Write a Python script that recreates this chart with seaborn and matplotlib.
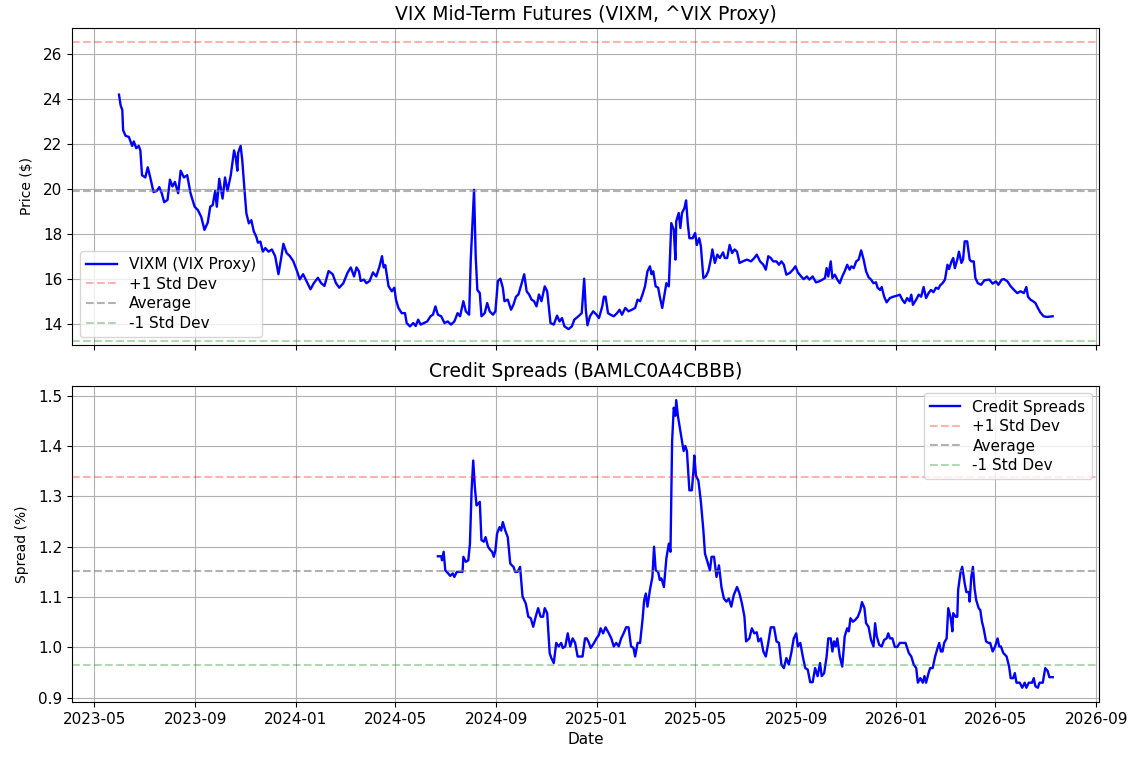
import pandas as pd
import matplotlib
matplotlib.use("Agg")
import matplotlib.pyplot as plt
import matplotlib.dates as mdates
import seaborn as sns

# VIXM closes
vixm_dates = [
    "2023-05-31", "2023-06-02", "2023-06-04", "2023-06-05", "2023-06-08", "2023-06-12", "2023-06-16", "2023-06-18",
    "2023-06-21", "2023-06-24", "2023-06-26", "2023-06-28", "2023-07-02", "2023-07-05", "2023-07-08", "2023-07-12",
    "2023-07-16", "2023-07-19", "2023-07-22", "2023-07-25", "2023-07-29", "2023-08-01", "2023-08-04", "2023-08-07",
    "2023-08-11", "2023-08-14", "2023-08-18", "2023-08-22", "2023-08-26", "2023-08-31", "2023-09-04", "2023-09-08",
    "2023-09-12", "2023-09-16", "2023-09-19", "2023-09-22", "2023-09-25", "2023-09-27", "2023-09-30", "2023-10-04",
    "2023-10-07", "2023-10-10", "2023-10-14", "2023-10-18", "2023-10-20", "2023-10-22", "2023-10-23", "2023-10-26",
    "2023-10-28", "2023-10-31", "2023-11-02", "2023-11-05", "2023-11-08", "2023-11-11", "2023-11-14", "2023-11-16",
    "2023-11-19", "2023-11-22", "2023-11-25", "2023-11-29", "2023-12-03", "2023-12-07", "2023-12-11", "2023-12-14",
    "2023-12-17", "2023-12-21", "2023-12-25", "2023-12-29", "2024-01-02", "2024-01-06", "2024-01-10", "2024-01-14",
    "2024-01-19", "2024-01-23", "2024-01-28", "2024-02-01", "2024-02-05", "2024-02-10", "2024-02-15", "2024-02-19",
    "2024-02-23", "2024-02-28", "2024-03-04", "2024-03-08", "2024-03-12", "2024-03-15", "2024-03-18", "2024-03-20",
    "2024-03-24", "2024-03-27", "2024-03-31", "2024-04-04", "2024-04-08", "2024-04-12", "2024-04-15", "2024-04-17",
    "2024-04-19", "2024-04-23", "2024-04-27", "2024-04-30", "2024-05-02", "2024-05-05", "2024-05-09", "2024-05-13",
    "2024-05-15", "2024-05-19", "2024-05-23", "2024-05-26", "2024-05-29", "2024-06-01", "2024-06-05", "2024-06-09",
    "2024-06-13", "2024-06-16", "2024-06-19", "2024-06-22", "2024-06-26", "2024-06-30", "2024-07-04", "2024-07-08",
    "2024-07-12", "2024-07-16", "2024-07-19", "2024-07-23", "2024-07-26", "2024-07-30", "2024-08-01", "2024-08-05",
    "2024-08-07", "2024-08-09", "2024-08-12", "2024-08-14", "2024-08-18", "2024-08-21", "2024-08-24", "2024-08-28",
    "2024-08-31", "2024-09-03", "2024-09-06", "2024-09-09", "2024-09-11", "2024-09-15", "2024-09-19", "2024-09-22",
    "2024-09-25", "2024-09-28", "2024-10-02", "2024-10-05", "2024-10-08", "2024-10-11", "2024-10-14", "2024-10-17",
    "2024-10-20", "2024-10-23", "2024-10-26", "2024-10-30", "2024-11-02", "2024-11-06", "2024-11-10", "2024-11-14",
    "2024-11-17", "2024-11-20", "2024-11-23", "2024-11-28", "2024-12-02", "2024-12-05", "2024-12-10", "2024-12-14",
    "2024-12-17", "2024-12-19", "2024-12-21", "2024-12-24", "2024-12-28", "2025-01-01", "2025-01-04", "2025-01-08",
    "2025-01-10", "2025-01-12", "2025-01-15", "2025-01-18", "2025-01-22", "2025-01-26", "2025-01-29", "2025-02-01",
    "2025-02-05", "2025-02-09", "2025-02-13", "2025-02-17", "2025-02-20", "2025-02-23", "2025-02-26", "2025-03-01",
    "2025-03-04", "2025-03-07", "2025-03-09", "2025-03-11", "2025-03-14", "2025-03-17", "2025-03-19", "2025-03-22",
    "2025-03-24", "2025-03-27", "2025-03-30", "2025-04-02", "2025-04-05", "2025-04-07", "2025-04-08", "2025-04-11",
    "2025-04-13", "2025-04-15", "2025-04-18", "2025-04-20", "2025-04-22", "2025-04-24", "2025-04-28", "2025-05-01",
    "2025-05-03", "2025-05-06", "2025-05-08", "2025-05-11", "2025-05-14", "2025-05-17", "2025-05-20", "2025-05-22",
    "2025-05-25", "2025-05-28", "2025-05-31", "2025-06-04", "2025-06-06", "2025-06-09", "2025-06-12", "2025-06-15",
    "2025-06-18", "2025-06-21", "2025-06-24", "2025-06-28", "2025-07-03", "2025-07-08", "2025-07-12", "2025-07-15",
    "2025-07-19", "2025-07-23", "2025-07-26", "2025-07-29", "2025-08-01", "2025-08-04", "2025-08-08", "2025-08-11",
    "2025-08-14", "2025-08-17", "2025-08-20", "2025-08-24", "2025-08-28", "2025-08-31", "2025-09-03", "2025-09-07",
    "2025-09-10", "2025-09-14", "2025-09-17", "2025-09-21", "2025-09-25", "2025-09-29", "2025-10-03", "2025-10-06",
    "2025-10-08", "2025-10-10", "2025-10-13", "2025-10-15", "2025-10-18", "2025-10-21", "2025-10-24", "2025-10-27",
    "2025-10-30", "2025-11-02", "2025-11-05", "2025-11-07", "2025-11-10", "2025-11-13", "2025-11-16", "2025-11-19",
    "2025-11-22", "2025-11-25", "2025-11-28", "2025-12-01", "2025-12-04", "2025-12-07", "2025-12-09", "2025-12-12",
    "2025-12-14", "2025-12-17", "2025-12-20", "2025-12-24", "2025-12-28", "2026-01-01", "2026-01-05", "2026-01-08",
    "2026-01-11", "2026-01-14", "2026-01-17", "2026-01-19", "2026-01-21", "2026-01-25", "2026-01-28", "2026-01-31",
    "2026-02-03", "2026-02-06", "2026-02-09", "2026-02-12", "2026-02-15", "2026-02-18", "2026-02-21", "2026-02-23",
    "2026-02-26", "2026-03-01", "2026-03-04", "2026-03-06", "2026-03-09", "2026-03-11", "2026-03-13", "2026-03-16",
    "2026-03-18", "2026-03-21", "2026-03-23", "2026-03-25", "2026-03-28", "2026-03-31", "2026-04-02", "2026-04-05",
    "2026-04-07", "2026-04-10", "2026-04-14", "2026-04-18", "2026-04-24", "2026-04-28", "2026-05-02", "2026-05-05",
    "2026-05-09", "2026-05-12", "2026-05-16", "2026-05-20", "2026-05-24", "2026-05-28", "2026-06-01", "2026-06-05",
    "2026-06-08", "2026-06-10", "2026-06-13", "2026-06-16", "2026-06-19", "2026-06-22", "2026-06-25", "2026-06-29",
    "2026-07-03", "2026-07-10",
]
vixm_values = [
    24.18, 23.7, 23.5, 22.6, 22.35, 22.3, 21.9, 22.1,
    21.8, 21.9, 21.7, 20.6, 20.5, 20.95, 20.5, 19.85,
    19.9, 20.07, 19.8, 19.4, 19.5, 20.4, 20.1, 20.3,
    19.8, 20.8, 20.5, 20.6, 19.8, 19.2, 19.05, 18.75,
    18.17, 18.5, 19.2, 19.27, 19.9, 19.2, 20.44, 19.56,
    20.5, 19.9, 20.6, 21.7, 21.4, 20.8, 21.6, 21.9,
    21.25, 19.8, 18.9, 18.46, 18.6, 18.1, 17.87, 17.6,
    17.65, 17.2, 17.36, 17.2, 17.3, 17.0, 16.2, 16.85,
    17.55, 17.14, 17.0, 16.78, 16.4, 15.97, 16.2, 15.9,
    15.53, 15.8, 16.04, 15.8, 15.68, 16.34, 16.2, 15.8,
    15.6, 15.8, 16.26, 16.5, 16.1, 16.5, 16.33, 15.9,
    15.96, 15.8, 15.9, 16.28, 16.1, 16.55, 17.0, 16.5,
    16.6, 15.66, 15.44, 15.6, 15.07, 14.7, 14.47, 14.47,
    14.03, 13.88, 14.03, 13.9, 14.18, 13.96, 14.03, 14.1,
    14.33, 14.4, 14.77, 14.4, 14.33, 14.03, 14.1, 13.96,
    14.1, 14.47, 14.33, 15.0, 14.55, 14.4, 16.85, 19.95,
    17.0, 15.5, 15.36, 14.33, 14.47, 14.92, 14.55, 14.4,
    14.55, 15.9, 16.0, 15.6, 15.0, 15.07, 14.62, 14.85,
    15.2, 15.3, 15.8, 16.2, 15.44, 15.3, 15.07, 15.0,
    14.77, 15.3, 15.0, 15.66, 15.44, 14.03, 13.96, 14.36,
    14.1, 14.25, 13.88, 13.76, 13.88, 14.18, 14.33, 14.47,
    16.0, 14.62, 13.93, 14.33, 14.55, 14.4, 14.25, 14.77,
    15.2, 15.2, 14.47, 14.4, 14.33, 14.47, 14.62, 14.4,
    14.7, 14.55, 14.62, 14.7, 15.07, 15.0, 15.3, 15.66,
    16.33, 16.55, 16.2, 16.33, 15.66, 15.6, 15.2, 14.7,
    15.14, 15.8, 15.66, 18.47, 18.18, 16.85, 18.55, 18.92,
    18.25, 18.92, 19.14, 19.48, 18.47, 17.8, 17.8, 18.03,
    17.5, 17.8, 17.44, 16.03, 16.1, 16.33, 16.85, 17.3,
    16.7, 17.07, 16.92, 17.17, 16.92, 16.92, 17.5, 17.14,
    17.3, 17.2, 16.7, 16.77, 16.85, 16.77, 16.92, 17.07,
    16.77, 16.62, 16.4, 17.0, 16.92, 16.77, 16.77, 16.62,
    16.77, 16.62, 16.18, 16.25, 16.4, 16.55, 16.28, 16.1,
    15.98, 16.1, 15.96, 16.1, 15.84, 15.88, 15.96, 16.03,
    16.47, 16.1, 16.77, 16.03, 16.18, 15.96, 15.8, 16.1,
    16.33, 16.62, 16.4, 16.55, 16.47, 16.77, 16.85, 17.26,
    16.85, 16.33, 16.07, 15.96, 15.8, 15.84, 15.6, 15.5,
    15.63, 15.2, 14.95, 15.14, 15.2, 15.24, 15.29, 15.07,
    14.92, 15.14, 15.0, 15.29, 14.84, 15.07, 15.29, 15.2,
    15.63, 15.14, 15.36, 15.5, 15.4, 15.6, 15.55, 15.7,
    15.8, 15.96, 16.62, 16.43, 16.77, 16.92, 16.47, 16.85,
    17.2, 16.7, 16.85, 17.66, 17.66, 16.85, 16.77, 16.77,
    16.03, 15.8, 15.73, 15.93, 15.96, 15.78, 15.88, 15.73,
    15.96, 15.98, 15.88, 15.66, 15.5, 15.36, 15.44, 15.36,
    15.63, 15.2, 15.07, 15.0, 14.92, 14.7, 14.5, 14.33,
    14.3, 14.33,
]

# BBB credit spread (%)
spread_dates = [
    "2024-06-22", "2024-06-26", "2024-06-27", "2024-06-29", "2024-07-01", "2024-07-04", "2024-07-07", "2024-07-10",
    "2024-07-12", "2024-07-15", "2024-07-19", "2024-07-22", "2024-07-23", "2024-07-26", "2024-07-29", "2024-07-31",
    "2024-08-02", "2024-08-04", "2024-08-06", "2024-08-08", "2024-08-10", "2024-08-12", "2024-08-14", "2024-08-17",
    "2024-08-19", "2024-08-22", "2024-08-25", "2024-08-27", "2024-08-29", "2024-08-31", "2024-09-02", "2024-09-05",
    "2024-09-07", "2024-09-09", "2024-09-12", "2024-09-15", "2024-09-18", "2024-09-20", "2024-09-22", "2024-09-24",
    "2024-09-27", "2024-09-30", "2024-10-03", "2024-10-07", "2024-10-10", "2024-10-13", "2024-10-16", "2024-10-19",
    "2024-10-22", "2024-10-25", "2024-10-28", "2024-10-30", "2024-11-02", "2024-11-05", "2024-11-07", "2024-11-10",
    "2024-11-13", "2024-11-16", "2024-11-19", "2024-11-21", "2024-11-24", "2024-11-27", "2024-11-30", "2024-12-03",
    "2024-12-06", "2024-12-09", "2024-12-12", "2024-12-15", "2024-12-18", "2024-12-20", "2024-12-22", "2024-12-25",
    "2024-12-29", "2025-01-01", "2025-01-04", "2025-01-06", "2025-01-09", "2025-01-12", "2025-01-16", "2025-01-19",
    "2025-01-22", "2025-01-25", "2025-01-28", "2025-01-31", "2025-02-03", "2025-02-06", "2025-02-09", "2025-02-12",
    "2025-02-15", "2025-02-17", "2025-02-20", "2025-02-23", "2025-02-26", "2025-02-28", "2025-03-02", "2025-03-04",
    "2025-03-07", "2025-03-10", "2025-03-12", "2025-03-14", "2025-03-17", "2025-03-19", "2025-03-21", "2025-03-24",
    "2025-03-27", "2025-03-30", "2025-04-01", "2025-04-03", "2025-04-05", "2025-04-07", "2025-04-08", "2025-04-10",
    "2025-04-12", "2025-04-15", "2025-04-17", "2025-04-19", "2025-04-21", "2025-04-24", "2025-04-27", "2025-04-29",
    "2025-04-30", "2025-05-02", "2025-05-05", "2025-05-08", "2025-05-11", "2025-05-13", "2025-05-16", "2025-05-19",
    "2025-05-21", "2025-05-24", "2025-05-27", "2025-05-30", "2025-06-02", "2025-06-05", "2025-06-08", "2025-06-11",
    "2025-06-14", "2025-06-17", "2025-06-21", "2025-06-24", "2025-06-27", "2025-06-30", "2025-07-02", "2025-07-06",
    "2025-07-09", "2025-07-12", "2025-07-15", "2025-07-17", "2025-07-20", "2025-07-23", "2025-07-26", "2025-07-29",
    "2025-08-01", "2025-08-05", "2025-08-08", "2025-08-11", "2025-08-14", "2025-08-17", "2025-08-20", "2025-08-23",
    "2025-08-26", "2025-08-29", "2025-09-01", "2025-09-03", "2025-09-06", "2025-09-09", "2025-09-12", "2025-09-15",
    "2025-09-18", "2025-09-21", "2025-09-24", "2025-09-27", "2025-09-30", "2025-10-02", "2025-10-05", "2025-10-08",
    "2025-10-10", "2025-10-13", "2025-10-15", "2025-10-17", "2025-10-19", "2025-10-21", "2025-10-24", "2025-10-27",
    "2025-10-30", "2025-11-02", "2025-11-04", "2025-11-06", "2025-11-09", "2025-11-12", "2025-11-15", "2025-11-18",
    "2025-11-20", "2025-11-23", "2025-11-25", "2025-11-28", "2025-12-01", "2025-12-04", "2025-12-06", "2025-12-08",
    "2025-12-11", "2025-12-14", "2025-12-17", "2025-12-20", "2025-12-22", "2025-12-24", "2025-12-27", "2025-12-30",
    "2026-01-02", "2026-01-05", "2026-01-09", "2026-01-12", "2026-01-14", "2026-01-16", "2026-01-19", "2026-01-22",
    "2026-01-25", "2026-01-27", "2026-01-30", "2026-02-02", "2026-02-04", "2026-02-06", "2026-02-09", "2026-02-11",
    "2026-02-14", "2026-02-17", "2026-02-20", "2026-02-22", "2026-02-24", "2026-02-26", "2026-02-28", "2026-03-03",
    "2026-03-05", "2026-03-08", "2026-03-10", "2026-03-11", "2026-03-14", "2026-03-16", "2026-03-17", "2026-03-20",
    "2026-03-22", "2026-03-25", "2026-03-27", "2026-03-30", "2026-03-31", "2026-04-02", "2026-04-04", "2026-04-06",
    "2026-04-08", "2026-04-11", "2026-04-13", "2026-04-15", "2026-04-17", "2026-04-20", "2026-04-23", "2026-04-25",
    "2026-04-28", "2026-05-01", "2026-05-04", "2026-05-06", "2026-05-08", "2026-05-11", "2026-05-15", "2026-05-18",
    "2026-05-20", "2026-05-23", "2026-05-25", "2026-05-27", "2026-05-31", "2026-06-03", "2026-06-06", "2026-06-08",
    "2026-06-11", "2026-06-15", "2026-06-17", "2026-06-19", "2026-06-22", "2026-06-24", "2026-06-28", "2026-07-01",
    "2026-07-04", "2026-07-06", "2026-07-10",
]
spread_values = [
    1.181, 1.181, 1.173, 1.19, 1.153, 1.148, 1.142, 1.147,
    1.14, 1.15, 1.15, 1.15, 1.18, 1.17, 1.173, 1.206,
    1.312, 1.371, 1.318, 1.282, 1.285, 1.289, 1.213, 1.21,
    1.219, 1.2, 1.193, 1.19, 1.18, 1.193, 1.226, 1.239,
    1.232, 1.249, 1.232, 1.219, 1.167, 1.163, 1.16, 1.15,
    1.15, 1.16, 1.101, 1.087, 1.061, 1.058, 1.041, 1.061,
    1.078, 1.061, 1.061, 1.078, 1.068, 0.989, 0.979, 0.969,
    1.009, 1.002, 1.009, 0.999, 1.002, 1.028, 1.002, 1.018,
    1.009, 0.982, 0.982, 0.982, 1.018, 1.018, 1.012, 0.999,
    1.009, 1.018, 1.025, 1.038, 1.028, 1.04, 1.028, 1.018,
    1.002, 1.009, 1.002, 1.018, 1.028, 1.04, 1.04, 1.002,
    0.999, 0.982, 1.009, 1.009, 1.055, 1.094, 1.107, 1.081,
    1.114, 1.14, 1.2, 1.153, 1.15, 1.134, 1.137, 1.12,
    1.177, 1.206, 1.19, 1.41, 1.476, 1.46, 1.491, 1.46,
    1.44, 1.41, 1.39, 1.4, 1.39, 1.312, 1.312, 1.351,
    1.381, 1.341, 1.331, 1.289, 1.233, 1.186, 1.17, 1.153,
    1.18, 1.18, 1.14, 1.163, 1.12, 1.097, 1.091, 1.097,
    1.081, 1.104, 1.12, 1.107, 1.087, 1.061, 1.012, 1.018,
    1.038, 1.028, 1.03, 1.012, 1.018, 0.992, 0.982, 1.009,
    1.04, 1.04, 1.012, 1.009, 0.966, 0.959, 0.979, 0.966,
    0.989, 1.018, 1.028, 1.002, 1.009, 0.982, 0.959, 0.956,
    0.931, 0.931, 0.959, 0.943, 0.969, 0.943, 0.949, 0.982,
    1.018, 1.018, 0.992, 1.012, 1.002, 1.018, 0.982, 0.962,
    1.022, 1.038, 1.032, 1.058, 1.051, 1.055, 1.061, 1.074,
    1.09, 1.078, 1.048, 1.041, 1.015, 1.002, 1.048, 1.022,
    1.005, 1.002, 1.015, 1.018, 1.028, 1.018, 1.018, 1.001,
    1.001, 1.009, 1.009, 1.009, 0.999, 0.989, 0.982, 0.966,
    0.959, 0.93, 0.939, 0.93, 0.943, 0.93, 0.949, 0.959,
    0.959, 0.982, 0.999, 1.009, 0.992, 0.992, 1.009, 1.018,
    1.078, 1.058, 1.032, 1.068, 1.061, 1.061, 1.114, 1.15,
    1.16, 1.127, 1.11, 1.11, 1.091, 1.14, 1.16, 1.117,
    1.094, 1.078, 1.074, 1.051, 1.038, 1.012, 1.009, 1.009,
    0.992, 1.002, 1.018, 1.002, 1.002, 0.989, 0.982, 0.962,
    0.939, 0.939, 0.949, 0.93, 0.93, 0.92, 0.93, 0.92,
    0.93, 0.93, 0.939, 0.923, 0.92, 0.93, 0.93, 0.959,
    0.953, 0.941, 0.941,
]

# reference bands drawn on the chart
vixm_mean, vixm_std = 19.88, 6.63
spread_mean, spread_std = 1.152, 0.186

plt.rcParams.update({
    "font.size": 11,
    "axes.titlesize": 13.5,
    "legend.fontsize": 11,
    "legend.labelspacing": 0.3,
})

DPI = 100
fig, (ax1, ax2) = plt.subplots(2, 1, figsize=(11.48, 7.64), dpi=DPI, sharex=True)

vix = pd.DataFrame({"date": pd.to_datetime(vixm_dates), "price": vixm_values})
sns.lineplot(data=vix, x="date", y="price", ax=ax1, color="blue", linewidth=1.7, label="VIXM (VIX Proxy)")
ax1.axhline(vixm_mean + vixm_std, color="red", linestyle="--", alpha=0.3, label="+1 Std Dev")
ax1.axhline(vixm_mean, color="gray", linestyle="--", alpha=0.6, label="Average")
ax1.axhline(vixm_mean - vixm_std, color="green", linestyle="--", alpha=0.3, label="-1 Std Dev")
ax1.set_title("VIX Mid-Term Futures (VIXM, ^VIX Proxy)")
ax1.set_ylabel("Price ($)", fontsize=10, labelpad=7)
ax1.set_xlabel("")
ax1.set_ylim(13.07, 27.13)
ax1.grid(True)
ax1.legend(loc="lower left")

cs = pd.DataFrame({"date": pd.to_datetime(spread_dates), "spread": spread_values})
sns.lineplot(data=cs, x="date", y="spread", ax=ax2, color="blue", linewidth=1.7, label="Credit Spreads")
ax2.axhline(spread_mean + spread_std, color="red", linestyle="--", alpha=0.3, label="+1 Std Dev")
ax2.axhline(spread_mean, color="gray", linestyle="--", alpha=0.6, label="Average")
ax2.axhline(spread_mean - spread_std, color="green", linestyle="--", alpha=0.3, label="-1 Std Dev")
ax2.set_title("Credit Spreads (BAMLC0A4CBBB)")
ax2.set_ylabel("Spread (%)", fontsize=10, labelpad=7)
ax2.set_xlabel("Date")
ax2.grid(True)
ax2.legend(loc="upper right")

ax2.xaxis.set_major_locator(mdates.MonthLocator(bymonth=[1, 5, 9]))
ax2.xaxis.set_major_formatter(mdates.DateFormatter("%Y-%m"))

plt.subplots_adjust(left=0.063, right=0.9576, top=0.963, bottom=0.081, hspace=0.13)
fig.savefig("out.png", dpi=DPI)
plt.close(fig)
